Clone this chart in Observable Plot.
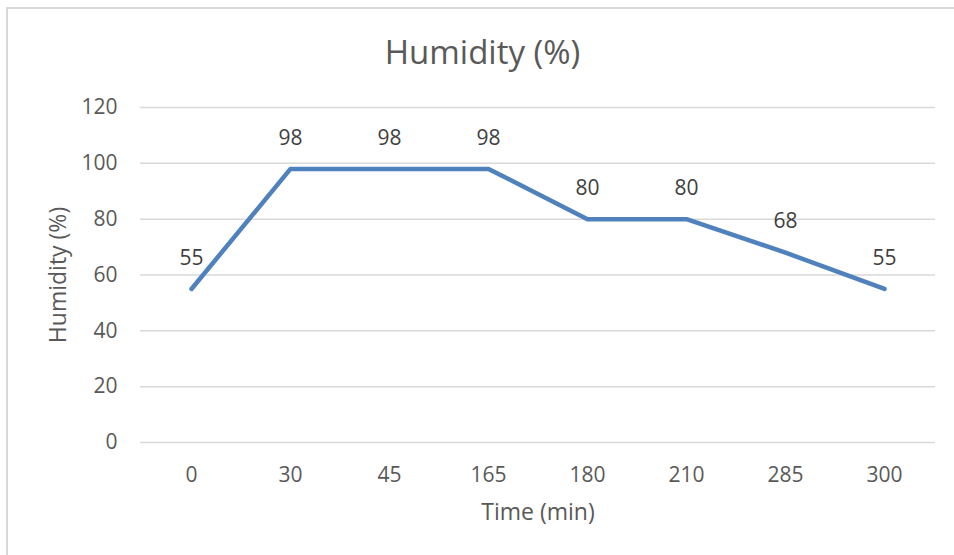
<!DOCTYPE html>
<html>
<head>
<meta charset="utf-8">
<script src="https://cdn.jsdelivr.net/npm/d3@7"></script>
<script src="https://cdn.jsdelivr.net/npm/@observablehq/plot@0.6"></script>
<style>
  body { margin: 0; background: #fff; }
  #wrap { position: relative; width: 954px; height: 555px; overflow: hidden; background: #fff; }
  #border { position: absolute; left: 6px; top: 7px; width: 1000px; height: 1000px; border: 2px solid #d9d9d9; }
  #title { position: absolute; left: 0; top: 35px; width: 965px; text-align: center;
           font-family: "Open Sans", sans-serif; font-size: 33px; line-height: 33px; color: #595959; }
  #chart { position: absolute; left: 0; top: 0; }
</style>
</head>
<body>
<div id="wrap">
  <div id="border"></div>
  <div id="chart"></div>
  <div id="title">Humidity (%)</div>
</div>
<script>
const times = ["0", "30", "45", "165", "180", "210", "285", "300"];
const humidity = [55, 98, 98, 98, 80, 80, 68, 55];
const yTicks = [0, 20, 40, 60, 80, 100, 120];
const xTitle = "Time (min)";
const yTitle = "Humidity (%)";

const data = times.map((t, i) => ({time: t, humidity: humidity[i]}));

const chart = Plot.plot({
  width: 954,
  height: 555,
  marginTop: 107,
  marginBottom: 113,
  marginLeft: 140,
  marginRight: 19,
  style: {fontFamily: "Open Sans, sans-serif", fontSize: "21px", color: "#595959", background: "transparent", overflow: "visible"},
  x: {type: "point", domain: times, padding: 0.5, label: null},
  y: {domain: [0, 120], ticks: yTicks, label: null},
  marks: [
    Plot.gridY(yTicks, {stroke: "#d9d9d9", strokeOpacity: 1, strokeWidth: 1.5}),
    Plot.axisY(yTicks, {tickSize: 0, tickPadding: 23, fontSize: 21, fill: "#595959", label: null}),
    Plot.axisX({tickSize: 0, tickPadding: 25, fontSize: 21, fill: "#595959", label: null}),
    Plot.text([yTitle], {frameAnchor: "left", rotate: -90, textAnchor: "middle", lineAnchor: "middle", dx: -82, fontSize: 23, fill: "#595959"}),
    Plot.text([xTitle], {frameAnchor: "bottom", textAnchor: "middle", lineAnchor: "middle", dy: 70, fontSize: 23, fill: "#595959"}),
    Plot.line(data, {x: "time", y: "humidity", stroke: "#4F81BD", strokeWidth: 4.5, strokeLinecap: "round", strokeLinejoin: "round"}),
    Plot.text(data, {x: "time", y: "humidity", text: d => String(d.humidity), dy: -31, fontSize: 21, fill: "#404040"})
  ]
});
document.getElementById("chart").appendChild(chart);
</script>
</body>
</html>
